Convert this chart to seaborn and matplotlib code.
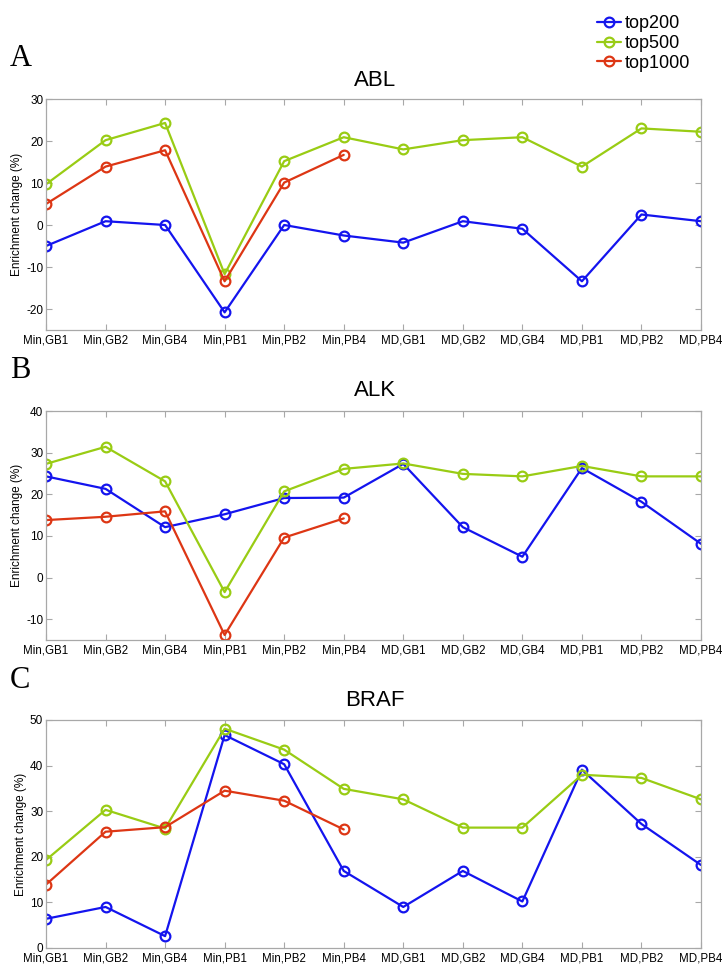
import matplotlib
matplotlib.use("Agg")
import matplotlib.pyplot as plt
import seaborn as sns
import pandas as pd

categories = ["Min,GB1", "Min,GB2", "Min,GB4", "Min,PB1", "Min,PB2", "Min,PB4",
              "MD,GB1", "MD,GB2", "MD,GB4", "MD,PB1", "MD,PB2", "MD,PB4"]
series_names = ["top200", "top500", "top1000"]

abl_top200 = [-5.0, 0.9, 0.0, -20.8, 0.0, -2.5, -4.2, 0.9, -0.9, -13.4, 2.5, 0.9]
abl_top500 = [9.7, 20.2, 24.3, -11.7, 15.2, 20.9, 18.0, 20.2, 20.9, 13.9, 23.0, 22.2]
abl_top1000 = [5.0, 13.9, 17.8, -13.4, 10.1, 16.7]

alk_top200 = [24.3, 21.3, 12.1, 15.2, 19.1, 19.2, 27.3, 12.1, 5.0, 26.3, 18.2, 8.1]
alk_top500 = [27.3, 31.4, 23.1, -3.5, 20.7, 26.1, 27.4, 24.9, 24.3, 26.8, 24.3, 24.3]
alk_top1000 = [13.8, 14.6, 15.9, -13.8, 9.6, 14.2]

braf_top200 = [6.4, 9.0, 2.6, 46.7, 40.3, 16.9, 9.0, 16.9, 10.2, 39.1, 27.2, 18.2]
braf_top500 = [19.3, 30.3, 26.2, 48.1, 43.5, 34.9, 32.6, 26.4, 26.4, 38.0, 37.3, 32.6]
braf_top1000 = [13.9, 25.5, 26.5, 34.5, 32.3, 26.0]

panels = [
    ("A", "ABL", [abl_top200, abl_top500, abl_top1000], (-25, 30), [-20, -10, 0, 10, 20, 30]),
    ("B", "ALK", [alk_top200, alk_top500, alk_top1000], (-15, 40), [-10, 0, 10, 20, 30, 40]),
    ("C", "BRAF", [braf_top200, braf_top500, braf_top1000], (0, 50), [0, 10, 20, 30, 40, 50]),
]

colors = ["#1414ee", "#99cc14", "#dd3614"]

sns.set_theme(style="white")
plt.rcParams["font.family"] = ["Liberation Sans", "DejaVu Sans"]
plt.rcParams["text.color"] = "black"
plt.rcParams["axes.labelcolor"] = "black"
plt.rcParams["xtick.labelcolor"] = "black"
plt.rcParams["ytick.labelcolor"] = "black"

fig = plt.figure(figsize=(7.24, 9.66), dpi=100)
W, H = 724, 966
left, right = 46 / W, 701 / W
boxes = [(99, 330), (411, 640), (720, 948)]
letter_y = [58, 370, 680]
title_y = [80, 391, 701]

frame_col = "#a8a8a8"
handles = None
for i, (letter, title, vals, ylim, yticks) in enumerate(panels):
    top_px, bot_px = boxes[i]
    ax = fig.add_axes([left, 1 - bot_px / H, right - left, (bot_px - top_px) / H])
    rows = []
    for name, v in zip(series_names, vals):
        for j, val in enumerate(v):
            rows.append({"pos": j, "value": val, "series": name})
    df = pd.DataFrame(rows)
    sns.lineplot(data=df, x="pos", y="value", hue="series", hue_order=series_names,
                 palette=colors, marker="o", markersize=7, markerfacecolor="none",
                 markeredgewidth=1.6, linewidth=1.6, sort=False, legend=(i == 0), ax=ax)
    for ln, c in zip(ax.lines, colors):
        ln.set_markeredgecolor(c)
    if i == 0:
        handles, labels = ax.get_legend_handles_labels()
        ax.get_legend().remove()
    ax.set_xlim(0, len(categories) - 1)
    ax.set_ylim(*ylim)
    ax.set_xticks(range(len(categories)))
    ax.set_xticklabels(categories, fontsize=8.3)
    ax.set_yticks(yticks)
    ax.set_yticklabels([str(t) for t in yticks], fontsize=8.5)
    ax.set_xlabel("")
    ax.set_ylabel("Enrichment change (%)", fontsize=8.5, labelpad=2)
    ax.tick_params(direction="in", length=4, width=0.8, color=frame_col,
                   top=True, right=True, bottom=True, left=True, pad=3)
    ax.tick_params(axis="y", pad=2)
    for s in ax.spines.values():
        s.set_color(frame_col)
        s.set_linewidth(0.9)
    ax.grid(False)
    fig.text(375 / W, 1 - title_y[i] / H, title, fontsize=16, ha="center", va="center")
    fig.text(10 / W, 1 - letter_y[i] / H, letter, fontsize=22, ha="left", va="center",
             family=["Liberation Serif", "DejaVu Serif"])

for h, c in zip(handles, colors):
    h.set_markerfacecolor("none")
    h.set_markeredgecolor(c)
fig.legend(handles, labels, loc="upper left", bbox_to_anchor=(590 / W, 1 - 8 / H),
           frameon=False, fontsize=13, handlelength=1.3, handletextpad=0.2,
           labelspacing=0.15, borderaxespad=0)

fig.savefig("out.png", dpi=100)
